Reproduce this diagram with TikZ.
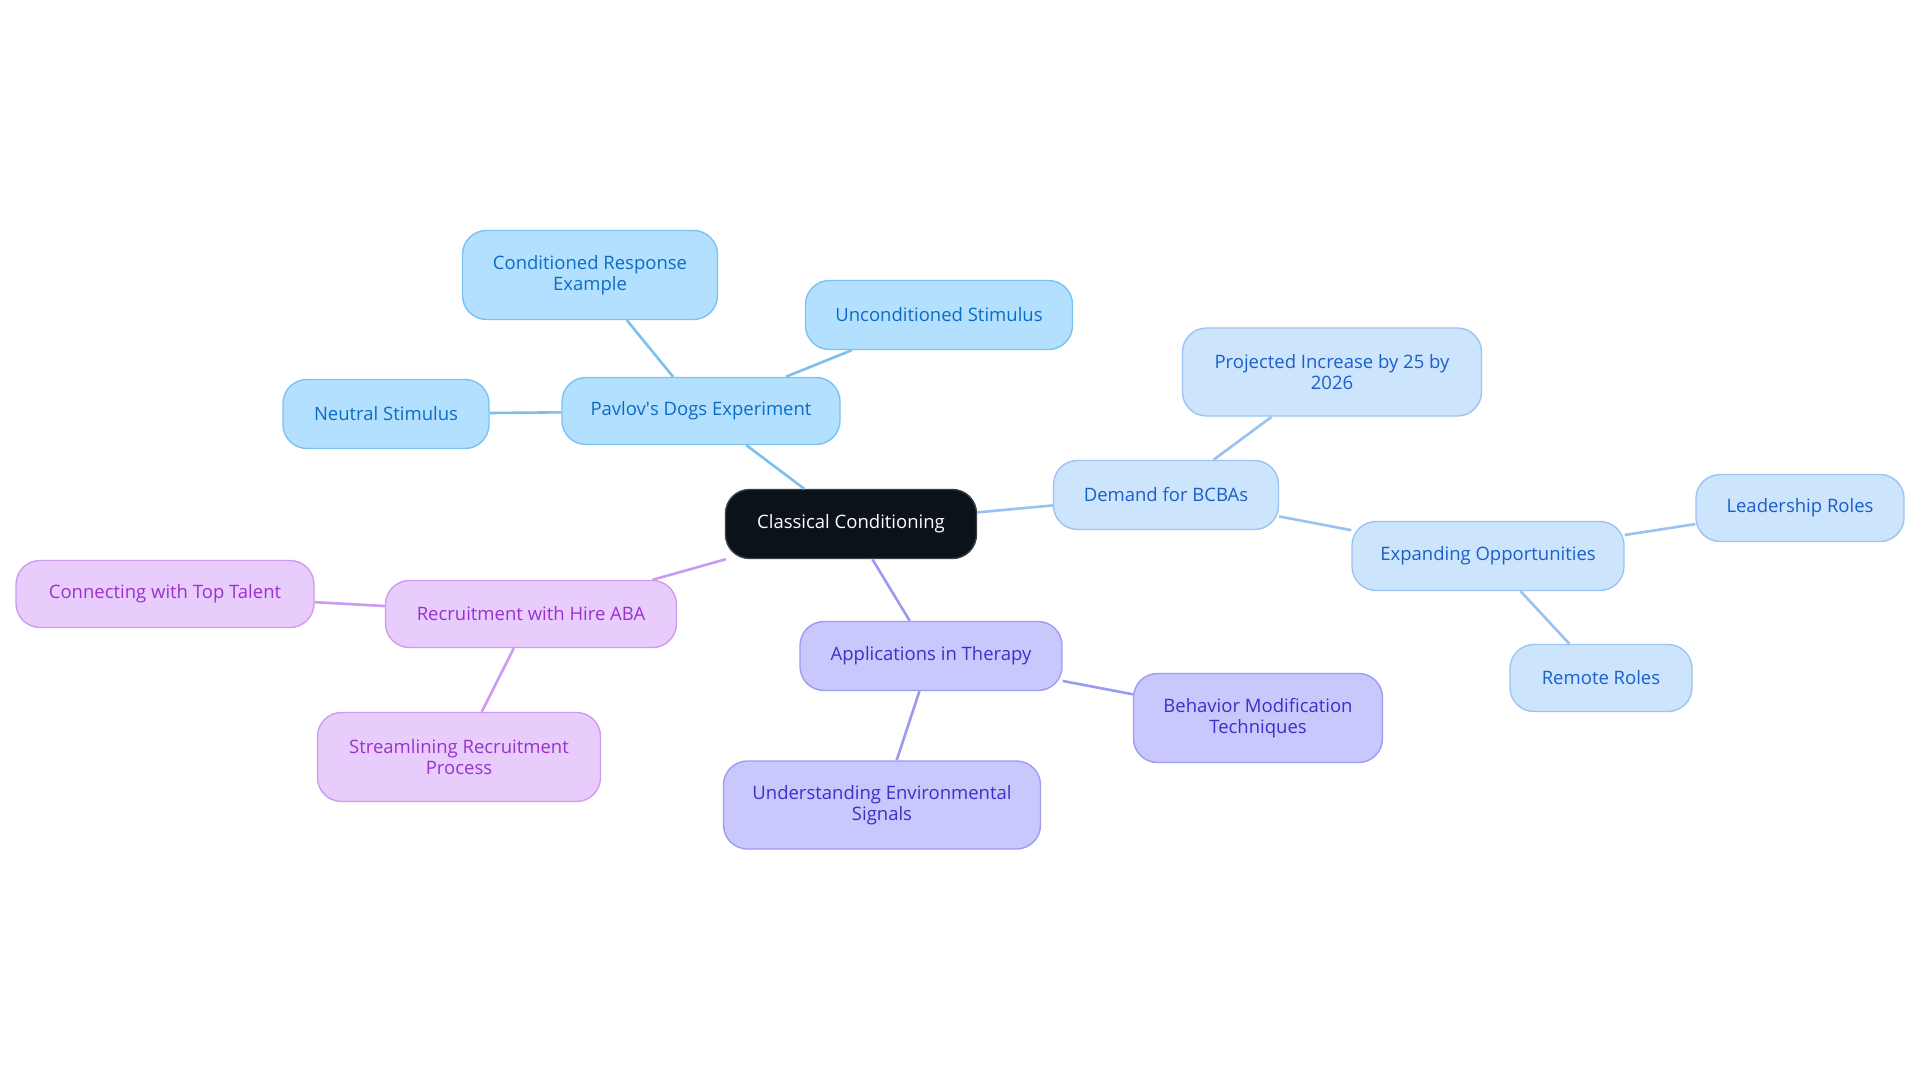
\documentclass[tikz,border=0pt]{standalone}
\usepackage{fontspec}
\setmainfont{Open Sans}
\definecolor{cyF}{HTML}{B3E0FF}\definecolor{cyD}{HTML}{7DC3F0}\definecolor{cyT}{HTML}{0C6CC4}\definecolor{cyL}{HTML}{7DC0EC}
\definecolor{lbF}{HTML}{CCE4FC}\definecolor{lbD}{HTML}{9DC4F2}\definecolor{lbT}{HTML}{1B5FC9}\definecolor{lbL}{HTML}{99C2F0}
\definecolor{lvF}{HTML}{C8C8FC}\definecolor{lvD}{HTML}{9C9CF2}\definecolor{lvT}{HTML}{3B30C8}\definecolor{lvL}{HTML}{9A9AF0}
\definecolor{pkF}{HTML}{E8CCFC}\definecolor{pkD}{HTML}{D09CF0}\definecolor{pkT}{HTML}{9B30D0}\definecolor{pkL}{HTML}{CC9AF0}
\definecolor{ctF}{HTML}{0C1219}\definecolor{ctD}{HTML}{3B4048}
\tikzset{
  box/.style={rectangle,rounded corners=24pt,line width=1.4pt,align=center,inner sep=0pt,
    font=\fontsize{18.5}{20.5}\selectfont},
  cy/.style={box,fill=cyF,draw=cyD,text=cyT},
  lb/.style={box,fill=lbF,draw=lbD,text=lbT},
  lv/.style={box,fill=lvF,draw=lvD,text=lvT},
  pk/.style={box,fill=pkF,draw=pkD,text=pkT},
  ct/.style={box,fill=ctF,draw=ctD,text=white},
  cyl/.style={draw=cyL,line width=2.6pt},
  lbl/.style={draw=lbL,line width=2.6pt},
  lvl/.style={draw=lvL,line width=2.6pt},
  pkl/.style={draw=pkL,line width=2.6pt},
}
\begin{document}
\begin{tikzpicture}[x=1pt,y=-1pt]
\useasboundingbox (0,0) rectangle (1920,1083);
\fill[white] (0,0) rectangle (1920,1083);
% nodes
\node[ct,minimum width=251pt,minimum height=69pt] (cc) at (851,524) {Classical Conditioning};
\node[cy,minimum width=278pt,minimum height=67pt] (pv) at (701,411) {Pavlov\textquotesingle s Dogs Experiment};
\node[cy,minimum width=255pt,minimum height=89pt] (cr) at (590,275) {Conditioned Response\\Example};
\node[cy,minimum width=267pt,minimum height=69pt] (us) at (939,315) {Unconditioned Stimulus};
\node[cy,minimum width=206pt,minimum height=69pt] (ns) at (386,414) {Neutral Stimulus};
\node[lb,minimum width=225pt,minimum height=69pt] (db) at (1166,495) {Demand for BCBAs};
\node[lb,minimum width=299pt,minimum height=88pt] (pi) at (1332,372) {Projected Increase by 25 by\\2026};
\node[lb,minimum width=272pt,minimum height=69pt] (eo) at (1488,556) {Expanding Opportunities};
\node[lb,minimum width=208pt,minimum height=67pt] (lr) at (1800,508) {Leadership Roles};
\node[lb,minimum width=182pt,minimum height=67pt] (rr) at (1601,678) {Remote Roles};
\node[lv,minimum width=262pt,minimum height=69pt] (at) at (931,656) {Applications in Therapy};
\node[lv,minimum width=249pt,minimum height=89pt] (bm) at (1258,718) {Behavior Modification\\Techniques};
\node[lv,minimum width=317pt,minimum height=88pt] (ue) at (882,805) {Understanding Environmental\\Signals};
\node[pk,minimum width=291pt,minimum height=67pt] (ra) at (531,614) {Recruitment with Hire ABA};
\node[pk,minimum width=298pt,minimum height=67pt] (ct) at (165,594) {Connecting with Top Talent};
\node[pk,minimum width=283pt,minimum height=89pt] (sr) at (459,757) {Streamlining Recruitment\\Process};
% connectors
\draw[cyl] (cc) -- (pv);
\draw[cyl] (pv) -- (cr);
\draw[cyl] (pv) -- (us);
\draw[cyl] (pv) -- (ns);
\draw[lbl] (cc) -- (db);
\draw[lbl] (db) -- (pi);
\draw[lbl] (db) -- (eo);
\draw[lbl] (eo) -- (lr);
\draw[lbl] (eo) -- (rr);
\draw[lvl] (cc) -- (at);
\draw[lvl] (at) -- (bm);
\draw[lvl] (at) -- (ue);
\draw[pkl] (cc) -- (ra);
\draw[pkl] (ra) -- (ct);
\draw[pkl] (ra) -- (sr);
\end{tikzpicture}
\end{document}
